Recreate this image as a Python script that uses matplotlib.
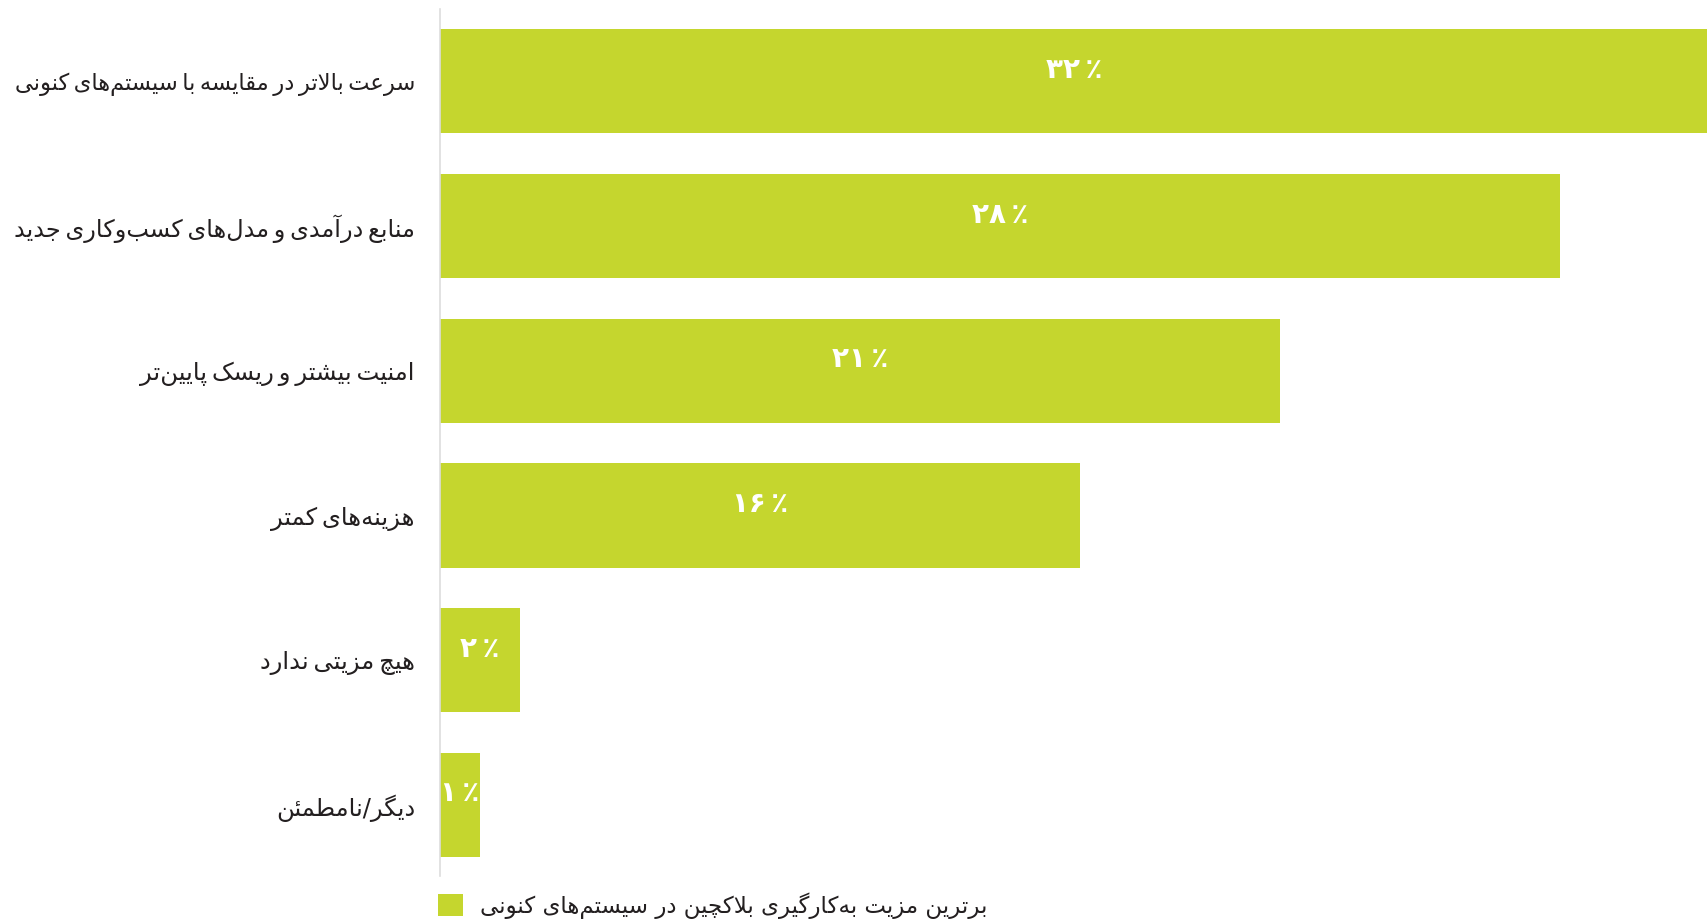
import matplotlib
matplotlib.use("Agg")
import matplotlib.pyplot as plt

# ---------------- data ----------------
categories = [
    "سرعت بالاتر در مقایسه با سیستم‌های کنونی",
    "منابع درآمدی و مدل‌های کسب‌وکاری جدید",
    "امنیت بیشتر و ریسک پایین‌تر",
    "هزینه‌های کمتر",
    "هیچ مزیتی ندارد",
    "دیگر/نامطمئن",
]
values = [32, 28, 21, 16, 2, 1]
series_name = "برترین مزیت به‌کارگیری بلاکچین در سیستم‌های کنونی"

# ---------------- simple Persian shaping (presentation forms + RTL) ----------------
FORMS = {
    'ا': ('\uFE8D', '\uFE8E', None, None),
    'آ': ('\uFE81', '\uFE82', None, None),
    'ب': ('\uFE8F', '\uFE90', '\uFE91', '\uFE92'),
    'پ': ('\uFB56', '\uFB57', '\uFB58', '\uFB59'),
    'ت': ('\uFE95', '\uFE96', '\uFE97', '\uFE98'),
    'ث': ('\uFE99', '\uFE9A', '\uFE9B', '\uFE9C'),
    'ج': ('\uFE9D', '\uFE9E', '\uFE9F', '\uFEA0'),
    'چ': ('\uFB7A', '\uFB7B', '\uFB7C', '\uFB7D'),
    'ح': ('\uFEA1', '\uFEA2', '\uFEA3', '\uFEA4'),
    'خ': ('\uFEA5', '\uFEA6', '\uFEA7', '\uFEA8'),
    'د': ('\uFEA9', '\uFEAA', None, None),
    'ذ': ('\uFEAB', '\uFEAC', None, None),
    'ر': ('\uFEAD', '\uFEAE', None, None),
    'ز': ('\uFEAF', '\uFEB0', None, None),
    'ژ': ('\uFB8A', '\uFB8B', None, None),
    'س': ('\uFEB1', '\uFEB2', '\uFEB3', '\uFEB4'),
    'ش': ('\uFEB5', '\uFEB6', '\uFEB7', '\uFEB8'),
    'ص': ('\uFEB9', '\uFEBA', '\uFEBB', '\uFEBC'),
    'ض': ('\uFEBD', '\uFEBE', '\uFEBF', '\uFEC0'),
    'ط': ('\uFEC1', '\uFEC2', '\uFEC3', '\uFEC4'),
    'ظ': ('\uFEC5', '\uFEC6', '\uFEC7', '\uFEC8'),
    'ع': ('\uFEC9', '\uFECA', '\uFECB', '\uFECC'),
    'غ': ('\uFECD', '\uFECE', '\uFECF', '\uFED0'),
    'ف': ('\uFED1', '\uFED2', '\uFED3', '\uFED4'),
    'ق': ('\uFED5', '\uFED6', '\uFED7', '\uFED8'),
    'ک': ('\uFB8E', '\uFB8F', '\uFB90', '\uFB91'),
    'گ': ('\uFB92', '\uFB93', '\uFB94', '\uFB95'),
    'ل': ('\uFEDD', '\uFEDE', '\uFEDF', '\uFEE0'),
    'م': ('\uFEE1', '\uFEE2', '\uFEE3', '\uFEE4'),
    'ن': ('\uFEE5', '\uFEE6', '\uFEE7', '\uFEE8'),
    'و': ('\uFEED', '\uFEEE', None, None),
    'ه': ('\uFEE9', '\uFEEA', '\uFEEB', '\uFEEC'),
    'ی': ('\uFBFC', '\uFBFD', '\uFBFE', '\uFBFF'),
    'ئ': ('\uFE89', '\uFE8A', '\uFE8B', '\uFE8C'),
}
LAM_ALEF = {'ا': ('\uFEFB', '\uFEFC'), 'آ': ('\uFEF5', '\uFEF6')}


def shape(text, space=' '):
    text = text.replace('ي', 'ی').replace('ك', 'ک')
    tokens, i = [], 0
    while i < len(text):
        c = text[i]
        if c == 'ل' and i + 1 < len(text) and text[i + 1] in LAM_ALEF:
            tokens.append(('LA', text[i + 1]))
            i += 2
        else:
            tokens.append(c)
            i += 1

    def joins_next(t):
        if isinstance(t, tuple):
            return False
        f = FORMS.get(t)
        return f is not None and f[2] is not None

    def joins_prev(t):
        return isinstance(t, tuple) or t in FORMS

    out = []
    for k, t in enumerate(tokens):
        prev = tokens[k - 1] if k > 0 else None
        nxt = tokens[k + 1] if k + 1 < len(tokens) else None
        cp = prev is not None and joins_next(prev) and joins_prev(t)
        cn = nxt is not None and joins_next(t) and joins_prev(nxt)
        if isinstance(t, tuple):
            iso, fin = LAM_ALEF[t[1]]
            out.append(fin if cp else iso)
        elif t in FORMS:
            iso, fin, ini, med = FORMS[t]
            if cp and cn:
                out.append(med)
            elif cp:
                out.append(fin)
            elif cn:
                out.append(ini)
            else:
                out.append(iso)
        elif t == '\u200c':
            continue
        elif t == ' ':
            out.append(space)
        else:
            out.append(t)
    return ''.join(reversed(out))


def fa_digits(n):
    return str(n).translate(str.maketrans('0123456789', '۰۱۲۳۴۵۶۷۸۹'))


# ---------------- plot ----------------
plt.rcParams['font.family'] = ['DejaVu Sans']
W, H = 1708, 919
fig = plt.figure(figsize=(W / 100, H / 100), dpi=100)
ax = fig.add_axes([440 / W, (H - 876) / H, 1 - 440 / W, (876 - 9) / H])

bar_color = '#C5D62E'
text_color = '#231F20'
y = list(range(len(categories)))
ax.barh(y, values, height=0.72, color=bar_color, label=shape(series_name))

xmax = (W - 440) / 40.0
ax.set_xlim(0, xmax)
ax.set_ylim(5.49, -0.5)

for yi, v in zip(y, values):
    xc = min(v, xmax) / 2
    ax.text(xc, yi - 0.08, fa_digits(v) + '\u2009٪', ha='center', va='center',
            color='white', fontsize=20, fontweight='bold')

ax.set_yticks(y)
ax.set_yticklabels([shape(c, '\u2009') for c in categories], fontsize=17.5, color=text_color)
ax.tick_params(axis='y', length=0, pad=18)
ax.set_xticks([])

for s in ['top', 'right', 'bottom']:
    ax.spines[s].set_visible(False)
ax.spines['left'].set_color('#dddddd')
ax.spines['left'].set_linewidth(1.2)

fig.legend(loc='lower left', bbox_to_anchor=(417 / W, -0.022), frameon=False,
           fontsize=16.5, handlelength=1.1, handleheight=1.1, handletextpad=0.75,
           labelcolor=text_color)

# shrink any category label that would not fit in the left margin
fig.canvas.draw()
renderer = fig.canvas.get_renderer()
for lab in ax.get_yticklabels():
    bb = lab.get_window_extent(renderer)
    avail = bb.x1 - 14
    if bb.width > avail:
        lab.set_fontsize(lab.get_fontsize() * avail / bb.width)

fig.savefig('out.png', dpi=100)
